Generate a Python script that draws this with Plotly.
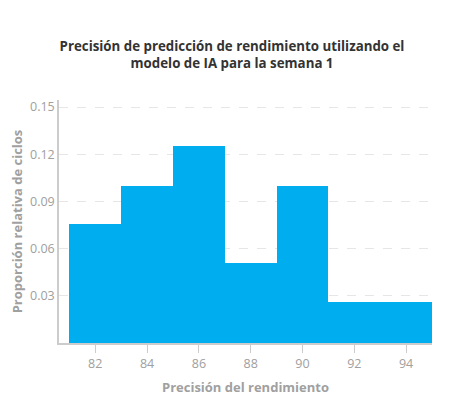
import plotly.graph_objects as go

# histogram bins (left edges, width 2) and relative proportions
bin_left = [81, 83, 85, 87, 89, 91, 93]
bin_width = 2
proportion = [0.0755, 0.100, 0.125, 0.051, 0.100, 0.026, 0.026]

x_ticks = [82, 84, 86, 88, 90, 92, 94]
y_ticks = [0.03, 0.06, 0.09, 0.12, 0.15]

GRAY = "#a0a0a0"
FONT = "Open Sans, Noto Sans, sans-serif"

# page body has an 8px margin, so the figure is drawn 8px smaller
W, H = 448, 392

fig = go.Figure(
    go.Bar(
        x=bin_left,
        y=proportion,
        width=[bin_width] * len(bin_left),
        offset=0,
        marker=dict(color="#00aeef", line=dict(width=0)),
        hoverinfo="x+y",
    )
)

fig.update_layout(
    width=W,
    height=H,
    paper_bgcolor="white",
    plot_bgcolor="white",
    bargap=0,
    showlegend=False,
    font=dict(family=FONT, color=GRAY),
    margin=dict(l=51, r=24, t=92, b=57, autoexpand=False),
    title=dict(
        text="<b>Precisión de predicción de rendimiento utilizando el<br>modelo de IA para la semana 1</b>",
        x=0.5,
        xanchor="center",
        y=1 - 43 / H,
        yanchor="middle",
        font=dict(size=13.3, color="#333333", family=FONT),
    ),
    xaxis=dict(
        range=[80.6, 95],
        tickvals=x_ticks,
        ticks="outside",
        ticklen=8,
        tickcolor="#cccccc",
        showline=True,
        linecolor="#cccccc",
        linewidth=1.5,
        showgrid=False,
        zeroline=False,
        automargin=False,
        tickfont=dict(size=12.5, color=GRAY),
        title=dict(text="<b>Precisión del rendimiento</b>", font=dict(size=13, color=GRAY), standoff=12),
    ),
    yaxis=dict(
        range=[0, 0.1545],
        tickvals=y_ticks,
        tickformat=".2f",
        showline=True,
        linecolor="#cccccc",
        linewidth=1.5,
        showgrid=True,
        gridcolor="#e6e6e6",
        griddash="dash",
        zeroline=False,
        automargin=False,
        layer="above traces",
        tickfont=dict(size=12.5, color=GRAY),
        title=dict(text="<b>Proporción relativa de ciclos</b>", font=dict(size=13, color=GRAY), standoff=14),
    ),
)

fig.write_html("out.html")
